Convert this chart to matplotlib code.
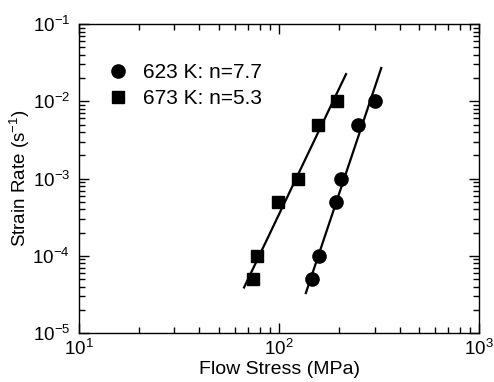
import matplotlib
matplotlib.use('Agg')
import matplotlib.pyplot as plt
import numpy as np

# ── data ─────────────────────────────────────────────────────────────────
stress_623 = [146, 158, 193, 204, 248, 302]
rate_623   = [5e-5, 1e-4, 5e-4, 1e-3, 5e-3, 1e-2]
stress_673 = [74, 77.6, 99, 124, 157, 195]
rate_673   = [5e-5, 1e-4, 5e-4, 1e-3, 5e-3, 1e-2]

# fitted power-law lines (end points)
fit_623_x = [136, 324]
fit_623_y = [3.3e-5, 2.7e-2]
fit_673_x = [66.8, 216]
fit_673_y = [3.9e-5, 2.25e-2]

labels = ["623 K: n=7.7", "673 K: n=5.3"]

plt.rcParams['font.family'] = ['Liberation Sans', 'DejaVu Sans']
plt.rcParams['mathtext.fontset'] = 'custom'
plt.rcParams['mathtext.rm'] = 'Liberation Sans'
plt.rcParams['mathtext.default'] = 'regular'

fig = plt.figure(figsize=(4.94, 3.82), dpi=100)
ax = fig.add_axes([0.16, 0.128, 0.81, 0.809])

ax.plot(fit_623_x, fit_623_y, color='black', lw=1.6)
ax.plot(fit_673_x, fit_673_y, color='black', lw=1.6)
ax.plot(stress_623, rate_623, 'o', color='black', ms=9.5, label=labels[0])
ax.plot(stress_673, rate_673, 's', color='black', ms=8.5, label=labels[1])

ax.set_xscale('log')
ax.set_yscale('log')
ax.set_xlim(10, 1000)
ax.set_ylim(1e-5, 1e-1)

ax.tick_params(which='both', direction='in', top=True, right=True, width=1)
ax.tick_params(which='major', length=7, labelsize=13.5)
ax.tick_params(which='minor', length=4)
ax.tick_params(axis='y', pad=6.5)
ax.tick_params(axis='x', pad=4)
for s in ax.spines.values():
    s.set_linewidth(1)

ax.set_xlabel('Flow Stress (MPa)', fontsize=14)
ax.set_ylabel('Strain Rate (s$^{-1}$)', fontsize=13.5)
ax.xaxis.set_label_coords(0.5, -0.09)
ax.yaxis.set_label_coords(-0.118, 0.5)

ax.legend(loc='upper left', bbox_to_anchor=(0.02, 0.935), frameon=False,
          fontsize=15, handletextpad=0.6, labelspacing=0.35, handlelength=1.2)

fig.savefig('out.png', dpi=100)
